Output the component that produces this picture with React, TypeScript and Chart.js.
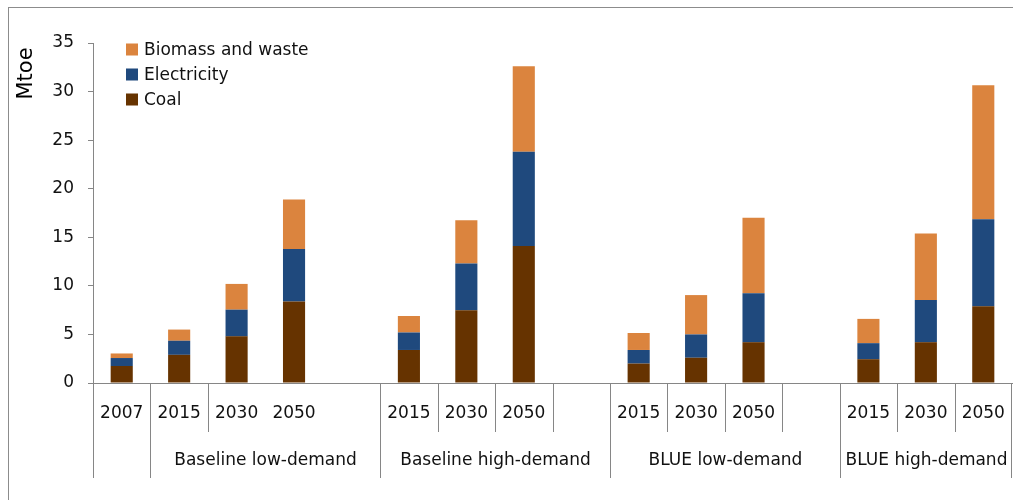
import React, { useEffect, useRef } from 'react';
import { Chart, registerables } from 'chart.js';

Chart.register(...registerables);

// ---- data ----
const categories = ['2007', '2015', '2030', '2050', '', '2015', '2030', '2050', '', '2015', '2030', '2050', '', '2015', '2030', '2050'];
const coal = [1.75, 2.9, 4.8, 8.4, null, 3.4, 7.5, 14.1, null, 2.0, 2.6, 4.2, null, 2.45, 4.2, 7.9];
const electricity = [0.82, 1.45, 2.75, 5.4, null, 1.8, 4.8, 9.7, null, 1.4, 2.4, 5.05, null, 1.65, 4.35, 8.95];
const biomass = [0.47, 1.15, 2.65, 5.1, null, 1.7, 4.45, 8.8, null, 1.75, 4.05, 7.75, null, 2.5, 6.85, 13.8];
const seriesNames = ['Coal', 'Electricity', 'Biomass and waste'];
const groupLabels = ['', 'Baseline low-demand', 'Baseline high-demand', 'BLUE low-demand', 'BLUE high-demand'];
const groupFirst = [0, 1, 5, 9, 13];
const groupLast = [0, 4, 8, 12, 15];
const innerDividers = [2, 6, 7, 8, 10, 11, 12, 14, 15];
const yTitle = 'Mtoe';
const yMin = 0;
const yMax = 35;
const yStep = 5;

const COLORS = ['#663300', '#1F497D', '#DB843E'];
const FONT = '"DejaVu Sans", sans-serif';
const AXIS = '#868686';

const overlayPlugin = {
  id: 'overlay',
  afterDraw(chart: any) {
    const ctx = chart.ctx;
    const x = chart.scales.x;
    const area = chart.chartArea;
    const half = (x.getPixelForValue(1) - x.getPixelForValue(0)) / 2;
    const bnd = (b: number) => Math.round(x.getPixelForValue(b) - half) + 0.5;
    ctx.save();
    ctx.strokeStyle = AXIS;
    ctx.lineWidth = 1;
    // inner dividers (short)
    innerDividers.forEach((b) => {
      const px = bnd(b);
      ctx.beginPath();
      ctx.moveTo(px, area.bottom);
      ctx.lineTo(px, area.bottom + 49);
      ctx.stroke();
    });
    // group dividers (long)
    const longB = groupFirst.slice();
    longB.push(groupLast[groupLast.length - 1] + 1);
    longB.forEach((b) => {
      const px = Math.min(bnd(b), chart.width - 1.5);
      ctx.beginPath();
      ctx.moveTo(px, area.bottom);
      ctx.lineTo(px, area.bottom + 95);
      ctx.stroke();
    });
    // group labels
    ctx.fillStyle = '#111';
    ctx.font = `17px ${FONT}`;
    ctx.textAlign = 'center';
    ctx.textBaseline = 'middle';
    groupLabels.forEach((g, i) => {
      if (!g) return;
      const l = bnd(groupFirst[i]);
      const r = bnd(groupLast[i] + 1);
      ctx.fillText(g, (l + r) / 2, area.bottom + 78);
    });
    // legend (reverse order)
    const ds = chart.data.datasets;
    ctx.textAlign = 'left';
    for (let k = 0; k < ds.length; k++) {
      const d = ds[ds.length - 1 - k];
      const yc = 49.5 + k * 25;
      ctx.fillStyle = d.backgroundColor;
      ctx.fillRect(126, yc - 6, 12, 12);
      ctx.fillStyle = '#111';
      ctx.fillText(d.label, 144, yc + 1);
    }
    // y title
    ctx.translate(27, 73.5);
    ctx.rotate(-Math.PI / 2);
    ctx.font = `21px ${FONT}`;
    ctx.textAlign = 'center';
    ctx.fillStyle = '#000';
    ctx.fillText(yTitle, 0, 0);
    ctx.restore();
  },
};

export default function App() {
  const ref = useRef<HTMLCanvasElement>(null);
  useEffect(() => {
    if (!ref.current) return;
    const values = [coal, electricity, biomass];
    const chart = new Chart(ref.current, {
      type: 'bar',
      data: {
        labels: categories,
        datasets: values.map((v, i) => ({
          label: seriesNames[i],
          data: v,
          backgroundColor: COLORS[i],
          borderWidth: 0,
          barPercentage: 0.385,
          categoryPercentage: 1,
        })),
      },
      options: {
        animation: false,
        responsive: false,
        devicePixelRatio: 1,
        layout: { padding: { left: 0, top: 43, right: 1, bottom: 0 } },
        plugins: { legend: { display: false }, tooltip: { enabled: false } },
        scales: {
          x: {
            stacked: true,
            grid: { display: false },
            border: { display: true, color: AXIS, width: 1 },
            ticks: { autoSkip: false, maxRotation: 0, color: '#111', font: { family: FONT, size: 17 }, padding: 12 },
            afterFit: (s: any) => { s.height = 117; s.paddingLeft = 0; s.paddingRight = 0; },
          },
          y: {
            stacked: true,
            min: yMin,
            max: yMax,
            grid: { display: true, drawOnChartArea: false, drawTicks: true, tickLength: 5, color: AXIS },
            border: { display: true, color: AXIS, width: 1 },
            ticks: { stepSize: yStep, color: '#111', font: { family: FONT, size: 17 }, padding: 14 },
            afterFit: (s: any) => { s.width = 93; s.paddingTop = 0; s.paddingBottom = 0; },
          },
        },
      },
      plugins: [overlayPlugin],
    });
    return () => chart.destroy();
  }, []);
  return (
    <div style={{ position: 'absolute', left: 0, top: 0, width: 1013, height: 500, overflow: 'hidden', background: '#fff' }}>
      <div style={{ position: 'absolute', left: 8, top: 7, width: 1100, height: 600, borderLeft: '1.5px solid #8c8c8c', borderTop: '1.5px solid #8c8c8c' }} />
      <canvas ref={ref} width={1013} height={500} style={{ position: 'absolute', left: 0, top: 0, width: 1013, height: 500 }} />
    </div>
  );
}
